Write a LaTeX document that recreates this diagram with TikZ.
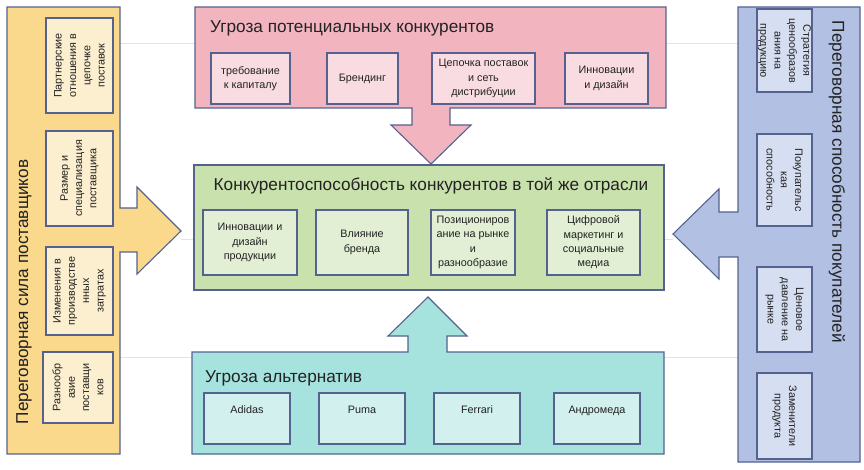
\documentclass[tikz,border=0pt]{standalone}
\usepackage{fontspec}
\setmainfont{Liberation Sans}
\definecolor{bd}{HTML}{55628F}
\definecolor{txt}{HTML}{222222}
\definecolor{yel}{HTML}{FAD98C}
\definecolor{yelin}{HTML}{FCEFCF}
\definecolor{pnk}{HTML}{F2B5BF}
\definecolor{pnkin}{HTML}{F8DCE1}
\definecolor{grn}{HTML}{C9E1AD}
\definecolor{grnin}{HTML}{E2EFD4}
\definecolor{tea}{HTML}{A6E2DE}
\definecolor{teain}{HTML}{D1F0EE}
\definecolor{blu}{HTML}{B2C1E3}
\definecolor{bluin}{HTML}{D6DEF2}
\tikzset{
  panel/.style={draw=bd, line width=1.1pt, line join=miter},
  ibox/.style={draw=bd, line width=1.1pt, align=center, inner sep=1pt, text=txt,
    font=\fontsize{10.8}{14.3}\selectfont},
  ttl/.style={text=txt, inner sep=0pt, font=\fontsize{17.2}{19}\selectfont},
  guide/.style={draw=gray!22, line width=0.6pt}
}
\begin{document}
\begin{tikzpicture}[x=1pt,y=-1pt]
\useasboundingbox (0,0) rectangle (864,470);
% faint guide lines
\draw[guide] (120,43) -- (195,43);
\draw[guide] (666,43) -- (738,43);
\draw[guide] (120,357) -- (192,357);
\draw[guide] (664,357) -- (738,357);
\draw[guide] (181,239) -- (194,239);
\draw[guide] (664,239) -- (673,239);
% panels
\draw[panel, fill=yel] (7,7) -- (120,7) -- (120,208) -- (137,208) -- (137,187) -- (181,231)
  -- (137,274) -- (137,252) -- (120,252) -- (120,454) -- (7,454) -- cycle;
\draw[panel, fill=blu] (738,7) -- (860,7) -- (860,462) -- (738,462) -- (738,257) -- (719,257)
  -- (719,279) -- (673,234) -- (719,189) -- (719,212) -- (738,212) -- cycle;
\draw[panel, fill=pnk] (195,7) -- (666,7) -- (666,108) -- (450,108) -- (450,125) -- (471,125)
  -- (431,164) -- (391,125) -- (412,125) -- (412,108) -- (195,108) -- cycle;
\draw[panel, fill=grn] (194,165) rectangle (664,290);
\draw[panel, fill=tea] (192,352) -- (408,352) -- (408,336) -- (388,336) -- (428,297) -- (467,336)
  -- (447,336) -- (447,352) -- (664,352) -- (664,454) -- (192,454) -- cycle;
% titles
\node[ttl, anchor=west] (tp) at (210,28) {Угроза потенциальных конкурентов};
\node[ttl] (tg) at (431,186) {Конкурентоспособность конкурентов в той же отрасли};
\node[ttl, anchor=west] (tt) at (205,378) {Угроза альтернатив};
\node[ttl, rotate=90] (tl) at (24,292) {Переговорная сила поставщиков};
\node[ttl, rotate=-90] (tr) at (837,182) {Переговорная способность покупателей};
% pink boxes
\node[ibox, fill=pnkin, minimum width=79pt, minimum height=51pt] (p1) at (250.5,78.5) {требование\\к капиталу};
\node[ibox, fill=pnkin, minimum width=71pt, minimum height=51pt] (p2) at (362.5,78.5) {Брендинг};
\node[ibox, fill=pnkin, minimum width=103pt, minimum height=51pt] (p3) at (483.5,78.5) {Цепочка поставок\\и сеть\\дистрибуции};
\node[ibox, fill=pnkin, minimum width=83pt, minimum height=51pt] (p4) at (606.5,78.5) {Инновации\\и дизайн};
% green boxes
\node[ibox, fill=grnin, minimum width=94pt, minimum height=65pt] (g1) at (250,242.5) {Инновации и\\дизайн\\продукции};
\node[ibox, fill=grnin, minimum width=92pt, minimum height=65pt] (g2) at (362,242.5) {Влияние\\бренда};
\node[ibox, fill=grnin, minimum width=84pt, minimum height=65pt] (g3) at (473,242.5) {Позициониров\\ание на рынке\\и\\разнообразие};
\node[ibox, fill=grnin, minimum width=93pt, minimum height=65pt] (g4) at (593.5,242.5) {Цифровой\\маркетинг и\\социальные\\медиа};
% teal boxes
\tikzset{tb/.style={ibox, fill=teain, minimum width=86pt, minimum height=51pt, text height=8pt, text depth=18pt}}
\node[tb] (a1) at (247,418.5) {Adidas};
\node[tb] (a2) at (362,418.5) {Puma};
\node[tb] (a3) at (477,418.5) {Ferrari};
\node[tb] (a4) at (597,418.5) {Андромеда};
% left boxes
\node[ibox, fill=yelin, rotate=90, minimum width=95pt, minimum height=67pt] (l1) at (79.5,65.5) {Партнерские\\отношения в\\цепочке\\поставок};
\node[ibox, fill=yelin, rotate=90, minimum width=95pt, minimum height=67pt] (l2) at (79.5,178.5) {Размер и\\специализация\\поставщика};
\node[ibox, fill=yelin, rotate=90, minimum width=88pt, minimum height=67pt] (l3) at (79.5,291) {Изменения в\\производстве\\нных\\затратах};
\node[ibox, fill=yelin, rotate=90, minimum width=71pt, minimum height=70pt] (l4) at (78,387.5) {Разнообр\\азие\\поставщи\\ков};
% right boxes
\node[ibox, fill=bluin, rotate=-90, minimum width=83pt, minimum height=55pt] (r1) at (784.5,50.5) {Стратегия\\ценообразов\\ания на\\продукцию};
\node[ibox, fill=bluin, rotate=-90, minimum width=92pt, minimum height=55pt] (r2) at (784.5,180) {Покупательс\\кая\\способность};
\node[ibox, fill=bluin, rotate=-90, minimum width=85pt, minimum height=55pt] (r3) at (784.5,309.5) {Ценовое\\давление на\\рынке};
\node[ibox, fill=bluin, rotate=-90, minimum width=86pt, minimum height=55pt] (r4) at (784.5,416) {Заменители\\продукта};
\end{tikzpicture}
\end{document}
